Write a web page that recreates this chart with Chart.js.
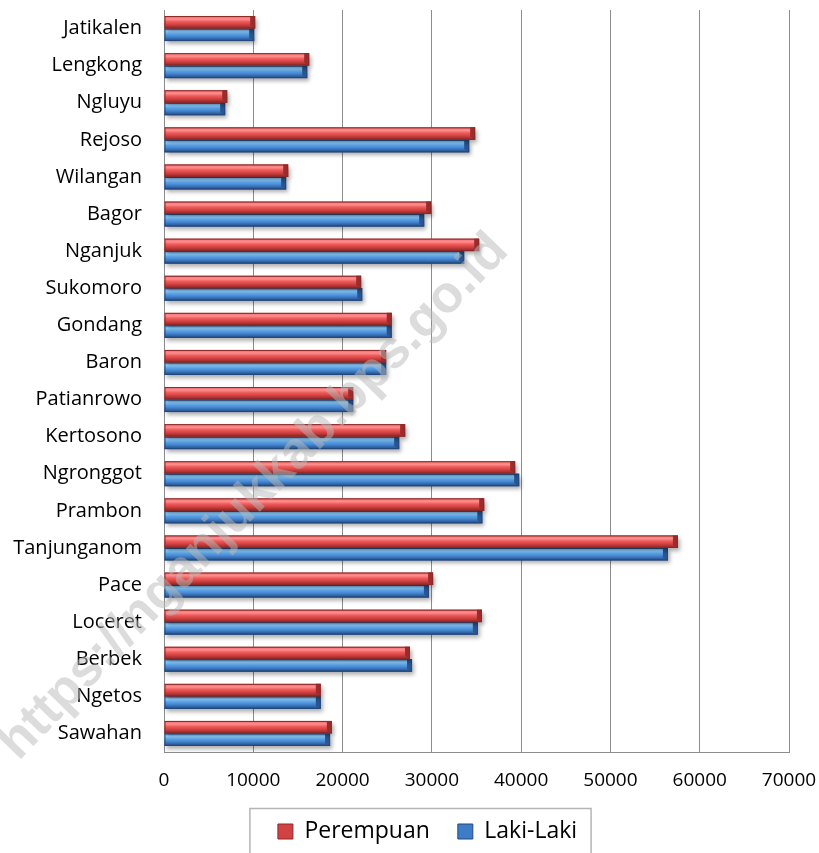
<!DOCTYPE html>
<html>
<head>
<meta charset="utf-8">
<script src="https://cdn.jsdelivr.net/npm/chart.js@4.4.1/dist/chart.umd.min.js"></script>
<style>
  body { margin: 0; background: #fff; }
  #wrap { width: 819px; height: 853px; position: relative; }
</style>
</head>
<body>
<div id="wrap"><canvas id="penduduk"></canvas></div>
<script>
// kecamatan, dari atas ke bawah
const kecamatan = ['Jatikalen', 'Lengkong', 'Ngluyu', 'Rejoso', 'Wilangan', 'Bagor', 'Nganjuk',
    'Sukomoro', 'Gondang', 'Baron', 'Patianrowo', 'Kertosono', 'Ngronggot', 'Prambon',
    'Tanjunganom', 'Pace', 'Loceret', 'Berbek', 'Ngetos', 'Sawahan'];

const perempuan = [10210, 16260, 7080, 34850, 13910, 29920, 35300,
    22080, 25510, 24880, 21190, 27010, 39330, 35860,
    57560, 30140, 35610, 27550, 17560, 18800];

const lakiLaki = [10100, 16040, 6850, 34180, 13680, 29140, 33620,
    22200, 25500, 24880, 21190, 26340, 39780, 35650,
    56440, 29670, 35150, 27780, 17560, 18600];

const xTicks = [0, 10000, 20000, 30000, 40000, 50000, 60000, 70000];

const FONT = "'Open Sans', 'Noto Sans', sans-serif";

// warna 3D ala excel
const gaya = {
    merah: { stops: ['#c94444', '#f57a7a', '#ff8d8d', '#ee5b5b', '#d64444', '#ad3131', '#7e2323'], tepi: '#8a2a2a', ujung: '#9b2c2c' },
    biru:  { stops: ['#3d74b8', '#7dc0f8', '#8ed0ff', '#5aa2ea', '#4484cf', '#2f62a3', '#203f70'], tepi: '#23497e', ujung: '#2a558f' }
};
const posisi = [0, 0.1, 0.25, 0.45, 0.65, 0.85, 1];

const barBevel = {
    id: 'barBevel',
    beforeDatasetDraw(chart, args) {
        const ctx = chart.ctx;
        const st = args.index === 0 ? gaya.merah : gaya.biru;
        ctx.save();
        args.meta.data.forEach(bar => {
            const p = bar.getProps(['x', 'y', 'base', 'height'], true);
            const top = p.y - p.height / 2, bot = p.y + p.height / 2;
            const left = p.base, right = p.x, h = p.height;
            const g = ctx.createLinearGradient(0, top, 0, bot);
            st.stops.forEach((c, i) => g.addColorStop(posisi[i], c));
            // bayangan
            ctx.save();
            ctx.shadowColor = 'rgba(0,0,0,0.32)';
            ctx.shadowBlur = 4;
            ctx.shadowOffsetX = 2;
            ctx.shadowOffsetY = 3;
            ctx.fillStyle = g;
            ctx.fillRect(left, top, right - left, h);
            ctx.restore();
            // ujung miring
            const d = Math.min(5, h / 2);
            ctx.fillStyle = st.ujung;
            ctx.beginPath();
            ctx.moveTo(right - d, top);
            ctx.lineTo(right, top);
            ctx.lineTo(right, bot);
            ctx.lineTo(right - d, bot - d * 0.6);
            ctx.closePath();
            ctx.fill();
            ctx.strokeStyle = st.tepi;
            ctx.lineWidth = 1;
            ctx.strokeRect(left + 0.5, top + 0.5, right - left - 1, h - 1);
        });
        ctx.restore();
        return false;
    }
};

// geser legenda sedikit ke kanan seperti aslinya
const legendShift = {
    id: 'legendShift',
    afterLayout(chart) {
        const lg = chart.legend;
        if (!lg) return;
        lg.left += 33;
        lg.right += 33;
    }
};

const legendBox = {
    id: 'legendBox',
    afterDraw(chart) {
        const lg = chart.legend;
        if (!lg || !lg.legendHitBoxes.length) return;
        const hb = lg.legendHitBoxes;
        const first = hb[0], last = hb[hb.length - 1];
        const x1 = first.left - 28, x2 = last.left + last.width + 14;
        const ctx = chart.ctx;
        ctx.save();
        ctx.strokeStyle = '#b5b5b5';
        ctx.lineWidth = 1.5;
        ctx.strokeRect(x1, lg.top + 16.5, x2 - x1, 80);
        ctx.restore();
    }
};

const watermark = {
    id: 'watermark',
    afterDraw(chart) {
        const ctx = chart.ctx;
        ctx.save();
        ctx.translate(254, 497);
        ctx.rotate(-46 * Math.PI / 180);
        ctx.font = "bold 52px 'Liberation Sans', Arial, sans-serif";
        ctx.fillStyle = 'rgba(185,185,185,0.5)';
        ctx.textAlign = 'center';
        ctx.textBaseline = 'middle';
        ctx.fillText('https://nganjukkab.bps.go.id', 0, 0);
        ctx.restore();
    }
};

new Chart(document.getElementById('penduduk'), {
    type: 'bar',
    data: {
        labels: kecamatan,
        datasets: [
            { label: 'Perempuan', data: perempuan, backgroundColor: '#d24242', borderColor: '#8a2a2a', borderWidth: 1 },
            { label: 'Laki-Laki', data: lakiLaki, backgroundColor: '#3f7cc8', borderColor: '#23497e', borderWidth: 1 }
        ]
    },
    options: {
        indexAxis: 'y',
        responsive: true,
        maintainAspectRatio: false,
        animation: false,
        layout: { padding: { top: 10, right: 30, left: 0, bottom: 0 } },
        datasets: { bar: { categoryPercentage: 0.674, barPercentage: 1.0 } },
        scales: {
            x: {
                min: 0,
                max: 70000,
                afterBuildTicks: s => { s.ticks = xTicks.map(v => ({ value: v })); },
                ticks: { color: '#000', font: { family: FONT, size: 19, lineHeight: 1 }, padding: 0,
                    callback: v => String(v) },
                grid: { color: '#8c8c8c', drawTicks: true, tickLength: 19, tickColor: 'rgba(0,0,0,0)' },
                border: { color: '#8c8c8c' },
                afterFit: s => { s.height = 40; }
            },
            y: {
                ticks: { color: '#000', font: { family: FONT, size: 20, lineHeight: 1 }, padding: 0, autoSkip: false },
                grid: { display: true, drawOnChartArea: false, drawTicks: true, tickLength: 22, tickColor: 'rgba(0,0,0,0)' },
                border: { color: '#8c8c8c' },
                afterFit: s => { s.width = 164; }
            }
        },
        plugins: {
            legend: {
                position: 'bottom',
                labels: {
                    color: '#000',
                    font: { family: FONT, size: 23 },
                    boxWidth: 15,
                    boxHeight: 15,
                    padding: 28
                }
            },
            tooltip: { enabled: false }
        }
    },
    plugins: [barBevel, legendShift, legendBox, watermark]
});
</script>
</body>
</html>
